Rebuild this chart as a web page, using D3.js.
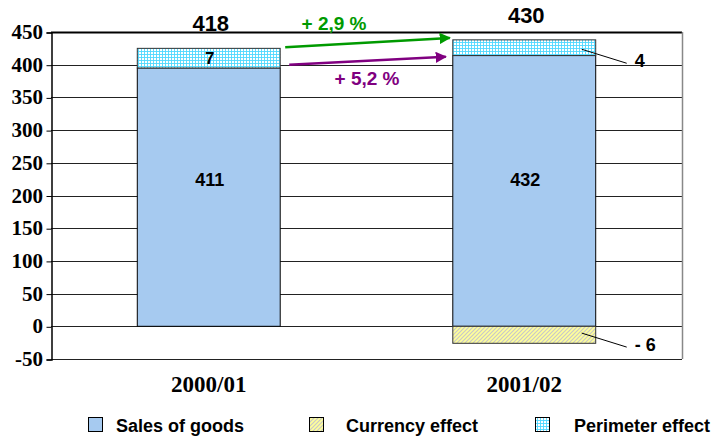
<!DOCTYPE html>
<html>
<head>
<meta charset="utf-8">
<script src="https://cdn.jsdelivr.net/npm/d3@7"></script>
<style>
  body { margin: 0; background: #fff; }
  svg { display: block; }
</style>
</head>
<body>
<svg width="715" height="441"></svg>
<script>
// data (bar heights as drawn, labels as printed)
var years = ["2000/01", "2001/02"];
var sales = [395, 414];
var perimeter = [30, 24];
var currency = [0, -26];
var salesLabels = ["411", "432"];
var perimeterLabels = ["7", "4"];
var currencyLabels = ["", "- 6"];
var totals = ["418", "430"];
var yTicks = [-50, 0, 50, 100, 150, 200, 250, 300, 350, 400, 450];
var growthText = ["+ 2,9 %", "+ 5,2 %"];
var growthFrom = [426.5, 400];
var growthTo = [441, 412];
var growthColor = ["#009a00", "#800080"];
var legendNames = ["Sales of goods", "Currency effect", "Perimeter effect"];

var chart = function() {
  var svg = d3.select("svg");
  var plotL = 51, plotR = 682, plotT = 32, plotB = 359;
  var serif = "'Liberation Serif', 'Times New Roman', serif";
  var sans = "'Liberation Sans', Arial, sans-serif";

  var x = d3.scaleBand().domain(years).range([plotL, plotR]).paddingInner(0.547).paddingOuter(0.2735);
  var y = d3.scaleLinear().domain([-50, 450]).range([plotB, plotT]);

  var defs = svg.append("defs");
  var grid = defs.append("pattern").attr("id", "grid")
      .attr("width", 3).attr("height", 3).attr("patternUnits", "userSpaceOnUse");
  grid.append("rect").attr("width", 3).attr("height", 3).attr("fill", "#ffffff");
  grid.append("path").attr("d", "M0,0.5H3M0.5,0V3").attr("stroke", "#4fd8ff").attr("stroke-width", 0.9);

  var hatch = defs.append("pattern").attr("id", "hatch")
      .attr("width", 4).attr("height", 4).attr("patternUnits", "userSpaceOnUse");
  hatch.append("rect").attr("width", 4).attr("height", 4).attr("fill", "#ffff99");
  hatch.append("path").attr("d", "M-1,1L1,-1M0,4L4,0M3,5L5,3").attr("stroke", "#c8c8c8").attr("stroke-width", 1.2);

  growthColor.forEach(function(c, i) {
    defs.append("marker").attr("id", "arr" + i)
      .attr("viewBox", "0 0 10 10").attr("refX", 9).attr("refY", 5)
      .attr("markerWidth", 4.5).attr("markerHeight", 4.5).attr("orient", "auto")
      .append("path").attr("d", "M0,0L10,5L0,10Z").attr("fill", c);
  });

  // gridlines
  svg.append("g").selectAll("line").data(yTicks).join("line")
      .attr("x1", plotL).attr("x2", plotR)
      .attr("y1", function(d) { return Math.round(y(d)) + 0.5; })
      .attr("y2", function(d) { return Math.round(y(d)) + 0.5; })
      .attr("stroke", function(d) { return d == 450 ? "#000" : "#222"; })
      .attr("stroke-width", function(d) { return d == 450 ? 2 : 1; });

  svg.append("line").attr("x1", plotR + 0.5).attr("x2", plotR + 0.5)
      .attr("y1", plotT).attr("y2", plotB).attr("stroke", "#888").attr("stroke-width", 1.5);

  // y axis: ticks from d3, labels drawn by hand in the serif face
  var yAxis = svg.append("g").attr("transform", "translate(" + (plotL + 0.5) + ",0.5)")
      .call(d3.axisLeft(y).tickValues(yTicks).tickSize(5).tickFormat(""));
  yAxis.select(".domain").attr("stroke", "#000").attr("stroke-width", 1.5);
  svg.append("g").selectAll("text").data(yTicks).join("text")
      .attr("x", plotL - 8)
      .attr("y", function(d) { return y(d) + 7; })
      .attr("text-anchor", "end")
      .attr("fill", "#000")
      .style("font-family", serif)
      .attr("font-weight", "bold").attr("font-size", 21)
      .text(function(d) { return d; });

  // bars
  var bars = svg.append("g");
  bars.selectAll(".sales").data(years).join("rect")
      .attr("x", function(d) { return x(d); })
      .attr("width", x.bandwidth())
      .attr("y", function(d, i) { return y(sales[i]); })
      .attr("height", function(d, i) { return y(0) - y(sales[i]); })
      .attr("fill", "#a6caf0").attr("stroke", "#000").attr("stroke-width", 1);
  bars.selectAll(".perim").data(years).join("rect")
      .attr("x", function(d) { return x(d); })
      .attr("width", x.bandwidth())
      .attr("y", function(d, i) { return y(sales[i] + perimeter[i]); })
      .attr("height", function(d, i) { return y(sales[i]) - y(sales[i] + perimeter[i]); })
      .attr("fill", "url(#grid)").attr("stroke", "#333").attr("stroke-width", 1);
  bars.selectAll(".curr").data(years.filter(function(d, i) { return currency[i] < 0; })).join("rect")
      .attr("x", function(d) { return x(d); })
      .attr("width", x.bandwidth())
      .attr("y", y(0))
      .attr("height", function(d) { return y(currency[years.indexOf(d)]) - y(0); })
      .attr("fill", "url(#hatch)").attr("stroke", "#333").attr("stroke-width", 1);

  // labels
  var labels = svg.append("g").style("font-family", sans)
      .attr("font-weight", "bold").attr("text-anchor", "middle").attr("fill", "#000");
  labels.selectAll(".tot").data(years).join("text")
      .attr("x", function(d) { return x(d) + x.bandwidth() / 2 + 2; })
      .attr("y", function(d, i) { return y(sales[i] + perimeter[i]) - 17; })
      .attr("font-size", 22)
      .text(function(d, i) { return totals[i]; });
  labels.selectAll(".sl").data(years).join("text")
      .attr("x", function(d) { return x(d) + x.bandwidth() / 2 + 1; })
      .attr("y", y(215))
      .attr("font-size", 18)
      .text(function(d, i) { return salesLabels[i]; });
  labels.append("text")
      .attr("x", x(years[0]) + x.bandwidth() / 2 + 1)
      .attr("y", y(sales[0] + perimeter[0] / 2) + 6)
      .attr("font-size", 17).text(perimeterLabels[0]);

  // leader lines for the small segments of the 2nd bar
  var bx = x(years[1]) + x.bandwidth();
  var leaders = [
    {v: sales[1] + perimeter[1] * 0.4, t: perimeterLabels[1]},
    {v: currency[1] * 0.4, t: currencyLabels[1]}
  ];
  leaders.forEach(function(l) {
    var y0 = y(l.v);
    svg.append("line").attr("x1", bx - 14).attr("y1", y0).attr("x2", bx + 31).attr("y2", y0 + 14)
        .attr("stroke", "#000").attr("stroke-width", 1);
    svg.append("text").attr("x", bx + 39).attr("y", y0 + 18)
        .style("font-family", sans).attr("font-weight", "bold")
        .attr("font-size", 18).text(l.t);
  });

  // growth arrows
  var ax0 = x(years[0]) + x.bandwidth();
  var ax1 = x(years[1]);
  growthText.forEach(function(t, i) {
    svg.append("line")
        .attr("x1", ax0 + 5 + i * 4).attr("y1", y(growthFrom[i]))
        .attr("x2", ax1 - 3 - i * 4).attr("y2", y(growthTo[i]))
        .attr("stroke", growthColor[i]).attr("stroke-width", 2.5)
        .attr("marker-end", "url(#arr" + i + ")");
  });
  svg.append("text").attr("x", 334).attr("y", 30).attr("fill", growthColor[0])
      .style("font-family", sans).attr("font-weight", "bold")
      .attr("font-size", 19).attr("text-anchor", "middle").text(growthText[0]);
  svg.append("text").attr("x", 367).attr("y", 85).attr("fill", growthColor[1])
      .style("font-family", sans).attr("font-weight", "bold")
      .attr("font-size", 19).attr("text-anchor", "middle").text(growthText[1]);

  // x labels
  svg.append("g").selectAll("text").data(years).join("text")
      .attr("x", function(d) { return x(d) + x.bandwidth() / 2; })
      .attr("y", 392)
      .attr("text-anchor", "middle")
      .style("font-family", serif)
      .attr("font-weight", "bold").attr("font-size", 23)
      .text(function(d) { return d; });

  // legend
  var fills = ["#a6caf0", "url(#hatch)", "url(#grid)"];
  var boxX = [88, 309, 535];
  var textX = [116, 346, 574];
  var lg = svg.append("g").selectAll("g").data(legendNames).join("g");
  lg.append("rect")
      .attr("x", function(d, i) { return boxX[i] + 0.5; }).attr("y", 417.5)
      .attr("width", 14).attr("height", 14)
      .attr("fill", function(d, i) { return fills[i]; }).attr("stroke", "#000").attr("stroke-width", 1);
  lg.append("text")
      .attr("x", function(d, i) { return textX[i]; }).attr("y", 432)
      .style("font-family", sans).attr("font-weight", "bold")
      .attr("font-size", 18).text(function(d) { return d; });
}();
</script>
</body>
</html>
